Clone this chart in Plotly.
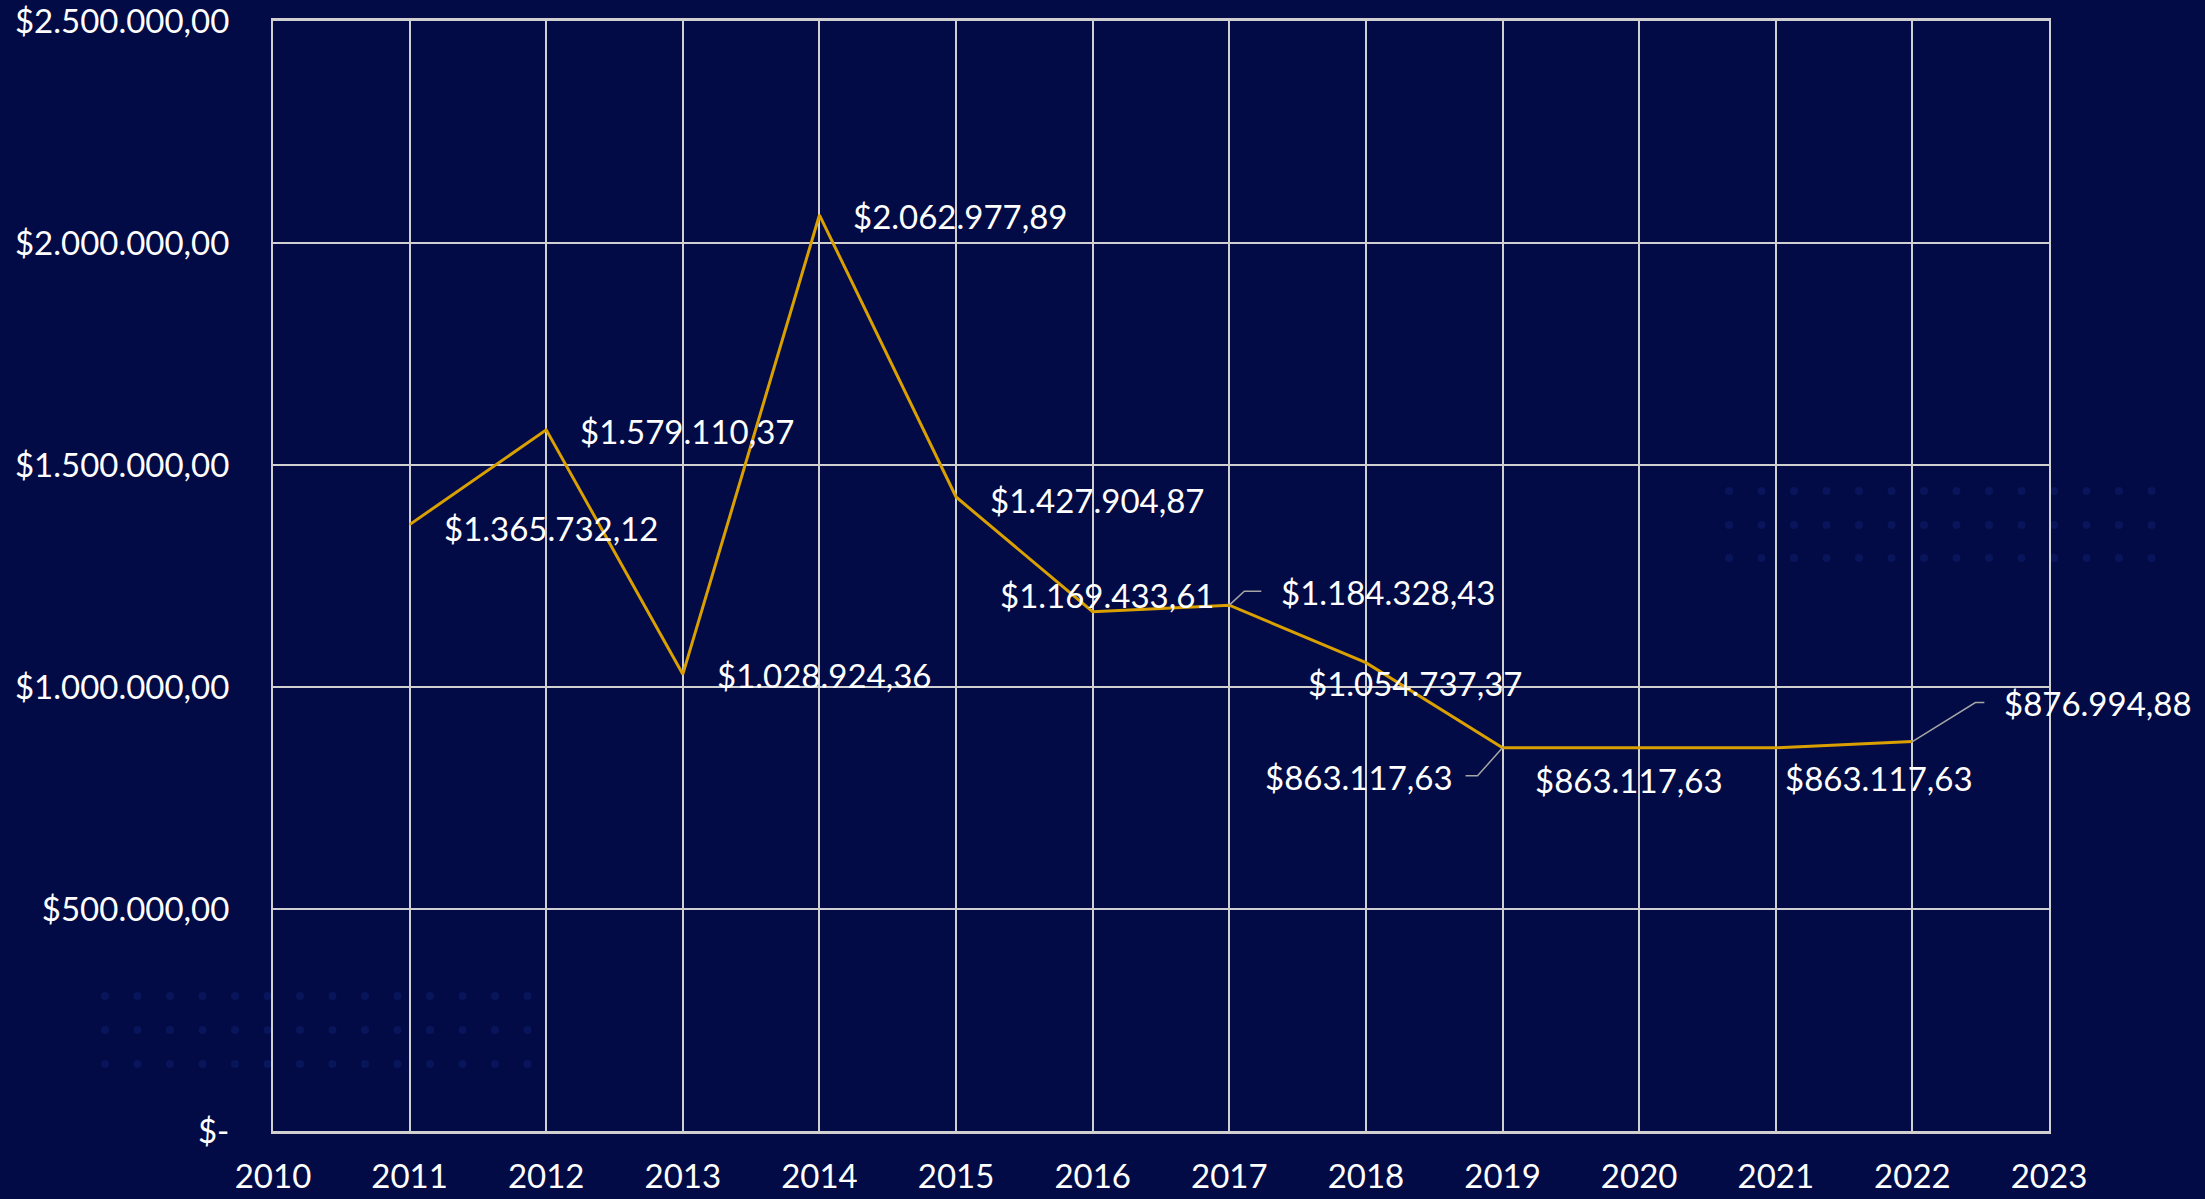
import plotly.graph_objects as go

# ---- data ----
years = [2011, 2012, 2013, 2014, 2015, 2016, 2017, 2018, 2019, 2020, 2021, 2022]
values = [1365732.12, 1579110.37, 1028924.36, 2062977.89, 1427904.87, 1169433.61,
          1184328.43, 1054737.37, 863117.63, 863117.63, 863117.63, 876994.88]
x_ticks = list(range(2010, 2024))
y_ticks = [0, 500000, 1000000, 1500000, 2000000, 2500000]
y_tick_labels = ["$-", "$500.000,00", "$1.000.000,00", "$1.500.000,00",
                 "$2.000.000,00", "$2.500.000,00"]

# label placement styles (anchor, xshift px, yshift px)
label_style = [("left", 32, -3), ("left", 32, -1), ("left", 32, -1), ("left", 32, -1),
               ("left", 32, -3), ("center", 14, 17), ("left", 50, 13), ("center", 49, -20),
               ("right", -48, -29), ("center", -10, -32), ("left", 7, -30), ("left", 90, 39)]
# leader lines (index -> pixel path relative to point)
leaders = {6: "M0,0 L15,14 L32,14", 8: "M0,0 L-25,-28 L-37,-28", 11: "M0,0 L63,39 L72,39"}

FONT = "Lato, 'Open Sans', sans-serif"
FS = 33
BG = "#020B45"


def fmt(v):
    s = f"{v:,.2f}"
    s = s.replace(",", "#").replace(".", ",").replace("#", ".")
    return "$" + s


fig = go.Figure()
fig.add_trace(go.Scatter(x=years, y=values, mode="lines",
                         line=dict(color="#D9A000", width=3), hoverinfo="skip"))

annotations = []
for i, (yr, v) in enumerate(zip(years, values)):
    anchor, dx, dy = label_style[i]
    annotations.append(dict(x=yr, y=v, xref="x", yref="y", text=fmt(v), showarrow=False,
                            xanchor=anchor, yanchor="middle", xshift=dx, yshift=dy,
                            font=dict(family=FONT, size=FS, color="#FFFFFF")))

shapes = []
# faint decorative dot grids in the background
for rows, cols, x0 in [((996, 1030, 1064), 14, 105), ((491, 525, 558), 14, 1729)]:
    for yy in rows:
        for c in range(cols):
            cx = x0 + c * 32.5
            shapes.append(dict(type="circle", xref="paper", yref="paper", layer="below",
                               x0=(cx - 4 - 273) / 1776, x1=(cx + 4 - 273) / 1776,
                               y0=(1131 - yy - 4) / 1110, y1=(1131 - yy + 4) / 1110,
                               fillcolor="rgba(30,60,170,0.22)", line=dict(width=0)))

for i, p in leaders.items():
    shapes.append(dict(type="path", xref="x", yref="y", xsizemode="pixel", ysizemode="pixel",
                       xanchor=years[i], yanchor=values[i], path=p,
                       line=dict(color="#A6A6A6", width=1.5)))

fig.update_layout(
    width=2205, height=1199,
    margin=dict(l=273, r=156, t=21, b=68, autoexpand=False),
    paper_bgcolor=BG, plot_bgcolor="rgba(0,0,0,0)",
    showlegend=False,
    font=dict(family=FONT, size=FS, color="#FFFFFF"),
    annotations=annotations, shapes=shapes,
    xaxis=dict(range=[2010, 2023], tickvals=x_ticks, ticktext=[str(t) for t in x_ticks],
               showgrid=True, gridcolor="#D0D0D0", gridwidth=2, zeroline=False,
               showline=True, linecolor="#D0D0D0", linewidth=3, mirror=True, automargin=False,
               ticks="", ticklabelstandoff=14, ticklabeloverflow="allow",
               tickfont=dict(family=FONT, size=FS, color="#FFFFFF")),
    yaxis=dict(range=[0, 2500000], tickvals=y_ticks, ticktext=y_tick_labels,
               showgrid=True, gridcolor="#D0D0D0", gridwidth=2, zeroline=False,
               showline=True, linecolor="#D0D0D0", linewidth=2, mirror=True, automargin=False,
               ticks="", ticklabelstandoff=35, ticklabeloverflow="allow",
               tickfont=dict(family=FONT, size=FS, color="#FFFFFF")),
)

fig.write_html("out.html", config={"displayModeBar": False})
with open("out.html", "r", encoding="utf-8") as f:
    html = f.read()
html = html.replace("<head>", "<head><style>html,body{margin:0;padding:0;overflow:hidden;background:%s;}</style>" % BG, 1)
with open("out.html", "w", encoding="utf-8") as f:
    f.write(html)
